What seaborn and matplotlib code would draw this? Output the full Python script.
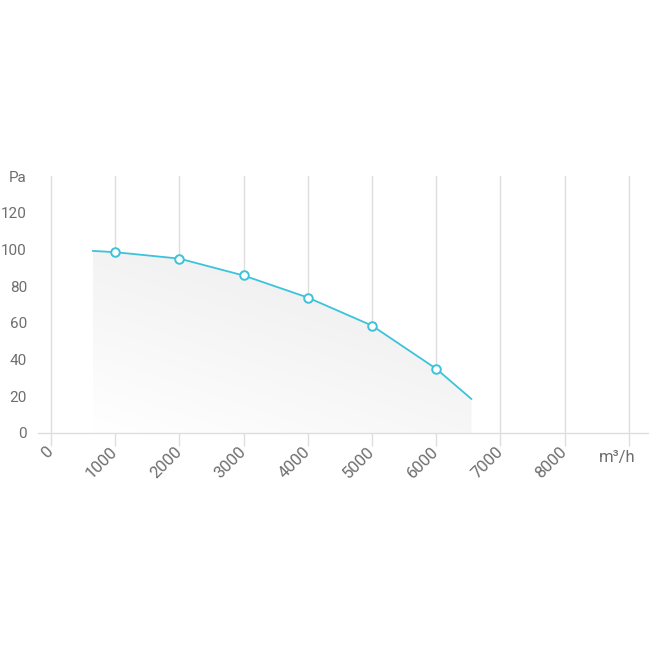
import numpy as np
import matplotlib
matplotlib.use('Agg')
import matplotlib.pyplot as plt
import seaborn as sns
import pandas as pd
from matplotlib.path import Path
from matplotlib.patches import PathPatch

# 数据: 风量 m3/h 与 静压 Pa
flow = [650, 1000, 2000, 3000, 4000, 5000, 6000, 6550]
pressure = [99.2, 98.5, 95, 85.8, 73.8, 58.5, 35, 18.5]
marker_flow = [1000, 2000, 3000, 4000, 5000, 6000]
marker_pressure = [98.5, 95, 85.8, 73.8, 58.5, 35]
x_ticks = [0, 1000, 2000, 3000, 4000, 5000, 6000, 7000, 8000, 9000]
y_ticks = [0, 20, 40, 60, 80, 100, 120, 140]
y_labels = ['0', '20', '40', '60', '80', '100', '120', 'Pa']

df = pd.DataFrame({'flow': flow, 'pressure': pressure})

sns.set_style('white')
plt.rcParams['font.family'] = ['Roboto', 'DejaVu Sans']

line_color = '#3cc3dc'
grid_color = '#dedede'
text_color = '#6e6e6e'

fig = plt.figure(figsize=(6.5, 6.5), dpi=100)
ax = fig.add_axes([38 / 650, 1 - 433 / 650, 610 / 650, 257 / 650])

# 渐变填充
verts = [(flow[0], 0)] + list(zip(flow, pressure)) + [(flow[-1], 0)]
clip = PathPatch(Path(verts), facecolor='none', edgecolor='none')
ax.add_patch(clip)
gx, gy = np.meshgrid(np.linspace(0, 1, 200), np.linspace(0, 1, 200))
grad = np.clip(0.6 * gy + 0.4 * gx, 0, 1)
im = ax.imshow(grad, extent=[flow[0], flow[-1], 0, max(pressure)], origin='lower',
               cmap=matplotlib.colors.LinearSegmentedColormap.from_list('g', ['#ffffff', '#ebebeb']),
               aspect='auto', zorder=1)
im.set_clip_path(clip)

for xv in x_ticks:
    ax.axvline(xv, color=grid_color, lw=1, zorder=0)

sns.lineplot(data=df, x='flow', y='pressure', color=line_color, lw=1.3, ax=ax, zorder=3)
ax.scatter(marker_flow, marker_pressure, s=38, facecolor='white', edgecolor=line_color,
           linewidth=1.4, zorder=4)

ax.set_xlim(-202, 9299)
ax.set_ylim(0, 140)
for s in ['top', 'right', 'left']:
    ax.spines[s].set_visible(False)
ax.spines['bottom'].set_color(grid_color)
ax.spines['bottom'].set_linewidth(1)

ax.set_xticks(x_ticks)
ax.set_xticklabels([str(v) for v in x_ticks[:-1]] + [''], rotation=45, ha='right', va='center',
                   rotation_mode='anchor', fontsize=12, color=text_color)
ax.tick_params(axis='x', length=9, color=grid_color, width=1, pad=3, bottom=True)
ax.set_yticks(y_ticks)
ax.set_yticklabels(y_labels, fontsize=11, color=text_color)
ax.tick_params(axis='y', length=0, pad=8)
ax.set_xlabel('')
ax.set_ylabel('')
ax.text(8816, -9, 'm³/h', ha='center', va='top', fontsize=12, color=text_color)

fig.savefig('out.png', dpi=100)
